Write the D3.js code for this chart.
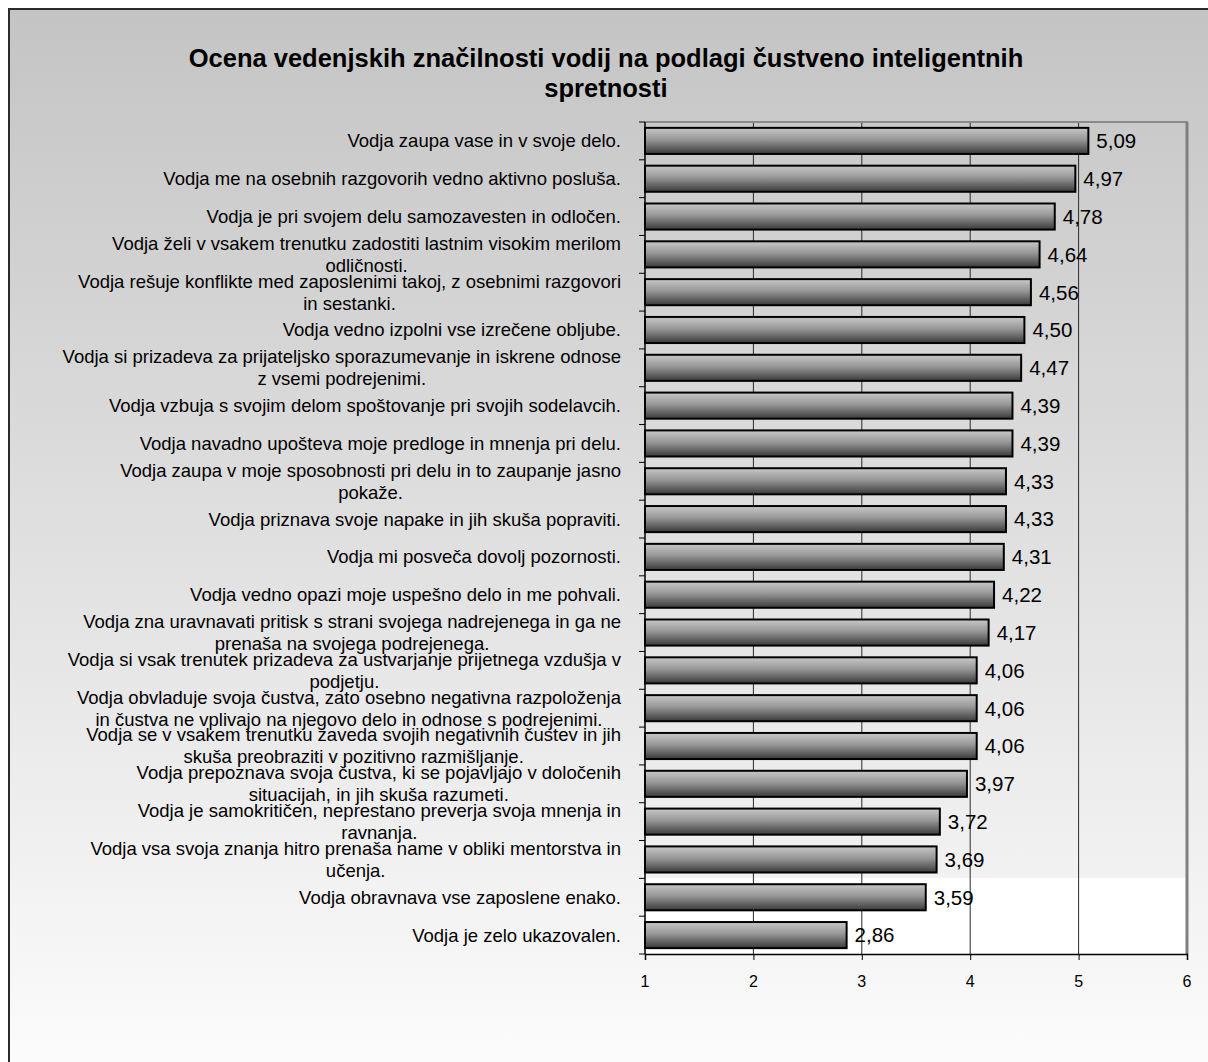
<!DOCTYPE html>
<html>
<head>
<meta charset="utf-8">
<script src="https://cdn.jsdelivr.net/npm/d3@7"></script>
<style>
  html, body { margin: 0; padding: 0; background: #fff; }
  svg { display: block; font-family: "Liberation Sans", Arial, sans-serif; }
</style>
</head>
<body>
<div id="vis"></div>
<script>
// chart data, top bar first
const titleLines = ['Ocena vedenjskih značilnosti vodij na podlagi čustveno inteligentnih', 'spretnosti'];

const categories = [
  'Vodja zaupa vase in v svoje delo.',
  'Vodja me na osebnih razgovorih vedno aktivno posluša.',
  'Vodja je pri svojem delu samozavesten in odločen.',
  'Vodja želi v vsakem trenutku zadostiti lastnim visokim merilom\nodličnosti.',
  'Vodja rešuje konflikte med zaposlenimi takoj, z osebnimi razgovori\nin sestanki.',
  'Vodja vedno izpolni vse izrečene obljube.',
  'Vodja si prizadeva za prijateljsko sporazumevanje in iskrene odnose\nz vsemi podrejenimi.',
  'Vodja vzbuja s svojim delom spoštovanje pri svojih sodelavcih.',
  'Vodja navadno upošteva moje predloge in mnenja pri delu.',
  'Vodja zaupa v moje sposobnosti pri delu in to zaupanje jasno\npokaže.',
  'Vodja priznava svoje napake in jih skuša popraviti.',
  'Vodja mi posveča dovolj pozornosti.',
  'Vodja vedno opazi moje uspešno delo in me pohvali.',
  'Vodja zna uravnavati pritisk s strani svojega nadrejenega in ga ne\nprenaša na svojega podrejenega.',
  'Vodja si vsak trenutek prizadeva za ustvarjanje prijetnega vzdušja v\npodjetju.',
  'Vodja obvladuje svoja čustva, zato osebno negativna razpoloženja\nin čustva ne vplivajo na njegovo delo in odnose s podrejenimi.',
  'Vodja se v vsakem trenutku zaveda svojih negativnih čustev in jih\nskuša preobraziti v pozitivno razmišljanje.',
  'Vodja prepoznava svoja čustva, ki se pojavljajo v določenih\nsituacijah, in jih skuša razumeti.',
  'Vodja je samokritičen, neprestano preverja svoja mnenja in\nravnanja.',
  'Vodja vsa svoja znanja hitro prenaša name v obliki mentorstva in\nučenja.',
  'Vodja obravnava vse zaposlene enako.',
  'Vodja je zelo ukazovalen.'
];

const values = [5.09, 4.97, 4.78, 4.64, 4.56, 4.50, 4.47, 4.39, 4.39, 4.33, 4.33,
  4.31, 4.22, 4.17, 4.06, 4.06, 4.06, 3.97, 3.72, 3.69, 3.59, 2.86];

const xTicks = [1, 2, 3, 4, 5, 6];

// sizes
const width = 1208;
const height = 1062;
const plot = { left: 645, right: 1187, top: 122, bottom: 954 };
const labelRight = 621;

const fmt = v => d3.format('.2f')(v).replace('.', ',');

const svg = d3.select('#vis').append('svg')
  .attr('width', width)
  .attr('height', height);

const defs = svg.append('defs');

// page background: grey at top fading to white
const bg = defs.append('linearGradient')
  .attr('id', 'bgGrad')
  .attr('x1', 0).attr('y1', 0).attr('x2', 0).attr('y2', 1);
bg.append('stop').attr('offset', '0%').attr('stop-color', '#c4c4c4');
bg.append('stop').attr('offset', '100%').attr('stop-color', '#fdfdfd');

// bar fill: light top, dark bottom
const barGrad = defs.append('linearGradient')
  .attr('id', 'barGrad')
  .attr('x1', 0).attr('y1', 0).attr('x2', 0).attr('y2', 1);
barGrad.append('stop').attr('offset', '0%').attr('stop-color', '#c8c8c8');
barGrad.append('stop').attr('offset', '45%').attr('stop-color', '#979797');
barGrad.append('stop').attr('offset', '100%').attr('stop-color', '#3a3a3a');

svg.append('rect')
  .attr('x', 9).attr('y', 9)
  .attr('width', width + 20).attr('height', height + 20)
  .attr('fill', 'url(#bgGrad)')
  .attr('stroke', '#2b2b2b')
  .attr('stroke-width', 2);

// title
svg.append('text')
  .attr('x', 606)
  .attr('text-anchor', 'middle')
  .style('font-size', '25.5px')
  .style('font-weight', 'bold')
  .attr('fill', '#000')
  .selectAll('tspan')
  .data(titleLines)
  .join('tspan')
  .attr('x', 606)
  .attr('y', (d, i) => 67 + i * 30)
  .text(d => d);

// scales
const x = d3.scaleLinear()
  .domain([1, 6])
  .range([plot.left, plot.right]);

const y = d3.scaleBand()
  .domain(d3.range(categories.length))
  .range([plot.top, plot.bottom])
  .paddingInner(0.31)
  .paddingOuter(0.155);

const band = (plot.bottom - plot.top) / categories.length;

// white patch in lower part of plot area (as in the original export)
svg.append('rect')
  .attr('x', plot.left).attr('y', 878)
  .attr('width', plot.right - plot.left).attr('height', plot.bottom - 878)
  .attr('fill', '#ffffff');

// vertical gridlines
svg.append('g')
  .selectAll('line')
  .data(xTicks.slice(1, -1))
  .join('line')
  .attr('x1', d => x(d)).attr('x2', d => x(d))
  .attr('y1', plot.top).attr('y2', plot.bottom)
  .attr('stroke', '#2a2a2a')
  .attr('stroke-width', 1);

// plot border top / right
svg.append('line')
  .attr('x1', plot.left).attr('x2', plot.right + 1)
  .attr('y1', plot.top).attr('y2', plot.top)
  .attr('stroke', '#8a8a8a').attr('stroke-width', 2);
svg.append('line')
  .attr('x1', plot.right).attr('x2', plot.right)
  .attr('y1', plot.top).attr('y2', plot.bottom)
  .attr('stroke', '#808080').attr('stroke-width', 3);

// bars
svg.append('g')
  .selectAll('rect')
  .data(values)
  .join('rect')
  .attr('x', x(1))
  .attr('y', (d, i) => y(i))
  .attr('width', d => x(d) - x(1))
  .attr('height', y.bandwidth())
  .attr('fill', 'url(#barGrad)')
  .attr('stroke', '#000')
  .attr('stroke-width', 2);

// value labels
svg.append('g')
  .selectAll('text')
  .data(values)
  .join('text')
  .attr('x', d => x(d) + 8)
  .attr('y', (d, i) => y(i) + y.bandwidth() / 2)
  .attr('dy', '0.36em')
  .style('font-size', '20.5px')
  .attr('fill', '#000')
  .text(d => fmt(d));

// bottom axis (ticks only, labels drawn below)
const xAxis = svg.append('g')
  .attr('transform', `translate(0,${plot.bottom})`)
  .call(d3.axisBottom(x).tickValues(xTicks).tickSize(6).tickFormat(''));
xAxis.select('.domain').attr('stroke', '#000').attr('stroke-width', 1.5);
xAxis.selectAll('.tick line').attr('stroke', '#000');

svg.append('g')
  .selectAll('text')
  .data(xTicks)
  .join('text')
  .attr('x', d => x(d))
  .attr('y', plot.bottom + 27)
  .attr('dy', '0.35em')
  .attr('text-anchor', 'middle')
  .style('font-size', '16px')
  .attr('fill', '#000')
  .text(d => d);

// left axis line with ticks at band boundaries
svg.append('line')
  .attr('x1', plot.left).attr('x2', plot.left)
  .attr('y1', plot.top).attr('y2', plot.bottom)
  .attr('stroke', '#000').attr('stroke-width', 1.5);
svg.append('g')
  .selectAll('line')
  .data(d3.range(categories.length + 1))
  .join('line')
  .attr('x1', plot.left - 6).attr('x2', plot.left)
  .attr('y1', i => plot.top + i * band).attr('y2', i => plot.top + i * band)
  .attr('stroke', '#000');

// category labels: centred block, right edge at labelRight
const lineGap = 22;
const labels = svg.append('g')
  .style('font-size', '18.5px')
  .attr('fill', '#000');

categories.forEach((c, i) => {
  const lines = c.split('\n');
  const cy = y(i) + y.bandwidth() / 2;
  const t = labels.append('text').attr('text-anchor', 'middle');
  const spans = t.selectAll('tspan')
    .data(lines)
    .join('tspan')
    .attr('y', (d, k) => cy + (k - (lines.length - 1) / 2) * lineGap)
    .attr('dy', '0.35em')
    .text(d => d);
  let w = 0;
  spans.each(function () { w = Math.max(w, this.getComputedTextLength()); });
  spans.attr('x', labelRight - w / 2);
});
</script>
</body>
</html>
